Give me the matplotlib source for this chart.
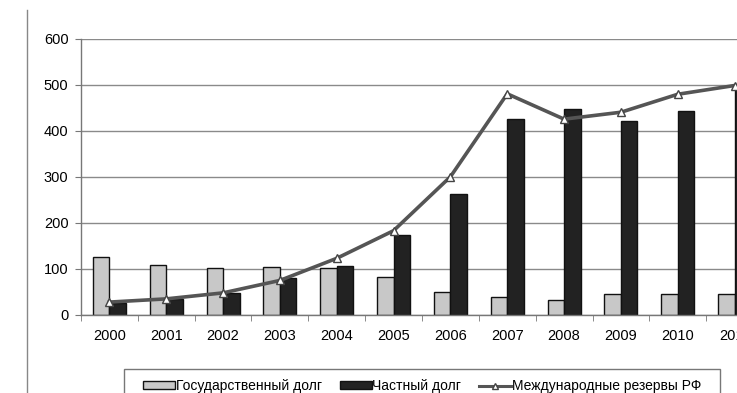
import numpy as np
import matplotlib.pyplot as plt
from matplotlib.lines import Line2D
from matplotlib.patches import Patch, Rectangle

plt.rcParams['font.family'] = ['Liberation Sans', 'DejaVu Sans']

years = ['2000', '2001', '2002', '2003', '2004', '2005', '2006',
         '2007', '2008', '2009', '2010', '2011']
gov_debt = [126, 109, 102, 104, 103, 82, 49, 39, 32, 45, 45, 45]
private_debt = [25, 34, 48, 80, 107, 174, 262, 425, 447, 421, 442, 493]
reserves = [28, 35, 48, 75, 123, 183, 300, 480, 425, 440, 479, 498]

W, H = 737, 393
fig = plt.figure(figsize=(W / 100, H / 100), dpi=100)

# plot area runs past the right edge, as in the cropped original
left, right = 81, 763
top, bottom = 38.5, 315
ax = fig.add_axes([left / W, 1 - bottom / H, (right - left) / W, (bottom - top) / H])

x = np.arange(len(years))
bw = 0.29
ax.bar(x - bw / 2, gov_debt, bw, color='#c8c8c8', edgecolor='#111111', linewidth=1.0, zorder=2)
ax.bar(x + bw / 2, private_debt, bw, color='#222222', edgecolor='#111111', linewidth=1.0, zorder=2)
ax.plot(x, reserves, color='#555555', linewidth=2.6, marker='^', markersize=6,
        markerfacecolor='white', markeredgecolor='#444444', markeredgewidth=1, zorder=3)

ax.set_xlim(-0.5, len(years) - 0.5)
ax.set_ylim(0, 600)
ax.set_yticks(range(0, 601, 100))
ax.grid(axis='y', color='#8a8a8a', linewidth=1.0, zorder=0)
ax.set_axisbelow(True)

ax.set_xticks(x)
ax.set_xticklabels(years)
ax.set_xticks(np.arange(-0.5, len(years), 1), minor=True)
ax.tick_params(axis='x', which='major', length=0, pad=10, labelsize=10.5)
ax.tick_params(axis='x', which='minor', length=4, color='#777777', direction='out')
ax.tick_params(axis='y', length=4, color='#777777', labelsize=10.5, pad=5)

for s in ['top', 'right']:
    ax.spines[s].set_visible(False)
for s in ['left', 'bottom']:
    ax.spines[s].set_color('#777777')
    ax.spines[s].set_linewidth(1.0)

# left frame line of the scan
fig.add_artist(Line2D([27 / W, 27 / W], [0, 1 - 10 / H], color='#888888', linewidth=1))

# legend frame, its bottom is cut off by the image edge
fig.add_artist(Rectangle((124 / W, -0.05), (720 - 124) / W, 1 - 369 / H + 0.05,
                         transform=fig.transFigure, fill=False,
                         edgecolor='#777777', linewidth=1.0))

handles = [
    Patch(facecolor='#c8c8c8', edgecolor='#111111'),
    Patch(facecolor='#222222', edgecolor='#111111'),
    Line2D([0], [0], color='#555555', linewidth=2.2, marker='^', markersize=5,
           markerfacecolor='white', markeredgecolor='#444444'),
]
labels = ['Государственный долг', 'Частный долг', 'Международные резервы РФ']
fig.legend(handles, labels, loc='center left', ncol=3,
           bbox_to_anchor=(143 / W, 1 - 386 / H),
           frameon=False, fontsize=10,
           handlelength=2.3, handleheight=0.45, handletextpad=0.05,
           columnspacing=1.3, borderaxespad=0, borderpad=0)

fig.savefig('out.png', dpi=100)
